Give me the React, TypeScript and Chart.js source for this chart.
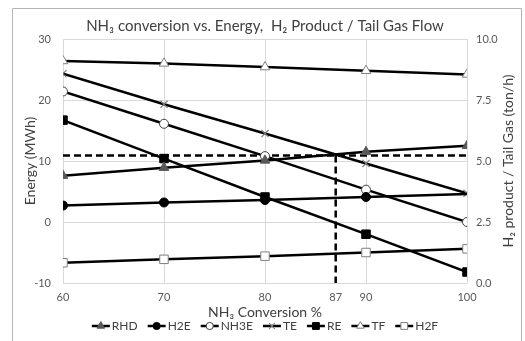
import React, { useEffect, useRef } from 'react';
import { Chart, registerables } from 'chart.js';
import { drawPoint } from 'chart.js/helpers';

Chart.register(...registerables);

// ---- data ----
const conversion = [60, 70, 80, 90, 100];
const xTicks = [60, 70, 80, 87, 90, 100];
const energyTicks = [-10, 0, 10, 20, 30];
const flowTicks = [0, 2.5, 5, 7.5, 10];
const rhd = [7.6, 8.9, 10.1, 11.5, 12.5];
const h2e = [2.7, 3.2, 3.6, 4.1, 4.6];
const nh3e = [21.4, 16.1, 10.8, 5.3, 0.0];
const te = [24.3, 19.3, 14.5, 9.6, 4.7];
const re = [16.7, 10.4, 4.1, -2.0, -8.2];
const tf = [9.1, 9.0, 8.85, 8.7, 8.55];
const h2f = [0.83, 0.97, 1.1, 1.25, 1.4];
const cutoffConversion = 87;
const cutoffEnergy = 10.9;

const FONT = 'Lato, "Open Sans", sans-serif';

const pts = (ys: number[]) => conversion.map((x, i) => ({ x, y: ys[i] }));

type Marker = {
  label: string;
  data: number[];
  axis: string;
  style: string;
  radius: number;
  fill: string;
  stroke: string;
  bw: number;
  hideLast?: boolean;
};

const markers: Marker[] = [
  { label: 'RHD', data: rhd, axis: 'y', style: 'triangle', radius: 5.5, fill: '#595959', stroke: '#595959', bw: 1 },
  { label: 'H2E', data: h2e, axis: 'y', style: 'circle', radius: 4.5, fill: '#000', stroke: '#000', bw: 1, hideLast: true },
  { label: 'NH3E', data: nh3e, axis: 'y', style: 'circle', radius: 4.5, fill: '#fff', stroke: '#404040', bw: 1 },
  { label: 'TE', data: te, axis: 'y', style: 'crossRot', radius: 5, fill: '#7f7f7f', stroke: '#7f7f7f', bw: 1.2 },
  { label: 'RE', data: re, axis: 'y', style: 'rect', radius: 6, fill: '#000', stroke: '#000', bw: 1 },
  { label: 'TF', data: tf, axis: 'y1', style: 'triangle', radius: 5.5, fill: '#fff', stroke: '#7f7f7f', bw: 1 },
  { label: 'H2F', data: h2f, axis: 'y1', style: 'rect', radius: 6, fill: '#fff', stroke: '#7f7f7f', bw: 1 },
];

const decor = {
  id: 'decor',
  beforeDraw(chart: any) {
    const ctx = chart.ctx;
    ctx.save();
    ctx.fillStyle = '#fff';
    ctx.fillRect(0, 0, chart.width, chart.height);
    ctx.strokeStyle = '#b4b4b4';
    ctx.lineWidth = 1;
    ctx.beginPath();
    ctx.moveTo(12.5, chart.height);
    ctx.lineTo(12.5, 8.5);
    ctx.lineTo(521.5, 8.5);
    ctx.lineTo(521.5, chart.height);
    ctx.stroke();
    ctx.restore();
  },
  afterDraw(chart: any) {
    const ctx = chart.ctx;
    const area = chart.chartArea;
    const cx = (area.left + area.right) / 2;
    ctx.save();
    ctx.textBaseline = 'middle';
    ctx.textAlign = 'center';
    // title
    ctx.fillStyle = '#404040';
    ctx.font = `15px ${FONT}`;
    ctx.fillText('NH\u2083 conversion vs. Energy,  H\u2082 Product / Tail Gas Flow', cx, 26);
    // x title
    ctx.font = `14px ${FONT}`;
    ctx.fillText('NH\u2083 Conversion %', cx, 312);
    // left title
    ctx.save();
    ctx.translate(30, (area.top + area.bottom) / 2);
    ctx.rotate(-Math.PI / 2);
    ctx.fillText('Energy (MWh)', 0, 0);
    ctx.restore();
    // right title
    ctx.save();
    ctx.translate(508, (area.top + area.bottom) / 2);
    ctx.rotate(-Math.PI / 2);
    ctx.fillText('H\u2082 product / Tail Gas (ton/h)', 0, 0);
    ctx.restore();

    // legend
    ctx.font = `12px ${FONT}`;
    const lineW = 18;
    const gapText = 2;
    const gapItem = 10;
    const widths = markers.map((m) => lineW + gapText + ctx.measureText(m.label).width);
    const total = widths.reduce((a, b) => a + b, 0) + gapItem * (markers.length - 1);
    let x = cx - total / 2;
    const y = 326;
    ctx.textAlign = 'left';
    markers.forEach((m, i) => {
      ctx.strokeStyle = '#000';
      ctx.lineWidth = 2.5;
      ctx.beginPath();
      ctx.moveTo(x, y);
      ctx.lineTo(x + lineW, y);
      ctx.stroke();
      ctx.fillStyle = m.fill;
      ctx.strokeStyle = m.stroke;
      ctx.lineWidth = m.bw;
      drawPoint(ctx, { pointStyle: m.style, radius: m.radius * 0.8, rotation: 0, borderWidth: m.bw }, x + lineW / 2, y);
      ctx.fillStyle = '#404040';
      ctx.fillText(m.label, x + lineW + gapText, y + 0.5);
      x += widths[i] + gapItem;
    });
    ctx.restore();
  },
};

export default function App() {
  const ref = useRef<HTMLCanvasElement | null>(null);
  useEffect(() => {
    if (!ref.current) return;
    const datasets: any[] = markers.map((m) => ({
      label: m.label,
      data: pts(m.data),
      yAxisID: m.axis,
      borderColor: '#000',
      borderWidth: 2.5,
      pointStyle: m.style,
      pointRadius: m.hideLast ? m.data.map((_, i) => (i === m.data.length - 1 ? 0 : m.radius)) : m.radius,
      pointBackgroundColor: m.fill,
      pointBorderColor: m.stroke,
      pointBorderWidth: m.bw,
      fill: false,
      tension: 0,
    }));
    datasets.push({
      label: 'cutoffH',
      data: [
        { x: conversion[0], y: cutoffEnergy },
        { x: conversion[conversion.length - 1], y: cutoffEnergy },
      ],
      yAxisID: 'y',
      borderColor: '#000',
      borderWidth: 2.5,
      borderDash: [7, 4],
      pointRadius: 0,
      fill: false,
    });
    datasets.push({
      label: 'cutoffV',
      data: [
        { x: cutoffConversion, y: cutoffEnergy },
        { x: cutoffConversion, y: energyTicks[0] },
      ],
      yAxisID: 'y',
      borderColor: '#000',
      borderWidth: 2.5,
      borderDash: [7, 4],
      pointRadius: 0,
      fill: false,
    });

    const tickFont = { family: FONT, size: 11 };
    const chart = new Chart(ref.current, {
      type: 'line',
      data: { datasets },
      options: {
        animation: false,
        responsive: true,
        maintainAspectRatio: false,
        layout: { padding: { top: 39, left: 0, right: 0, bottom: 0 } },
        plugins: { legend: { display: false }, title: { display: false }, tooltip: { enabled: false } },
        scales: {
          x: {
            type: 'linear',
            min: conversion[0],
            max: conversion[conversion.length - 1],
            afterBuildTicks: (s: any) => {
              s.ticks = xTicks.map((v) => ({ value: v }));
            },
            afterFit: (s: any) => {
              s.height = 341 - 283;
            },
            ticks: { color: '#595959', font: tickFont, padding: 8, autoSkip: false, maxRotation: 0 },
            grid: {
              drawTicks: false,
              color: (c: any) => (c.tick && c.tick.value === cutoffConversion ? 'rgba(0,0,0,0)' : '#d9d9d9'),
            },
            border: { display: false },
          },
          y: {
            position: 'left',
            min: energyTicks[0],
            max: energyTicks[energyTicks.length - 1],
            afterBuildTicks: (s: any) => {
              s.ticks = energyTicks.map((v) => ({ value: v }));
            },
            afterFit: (s: any) => {
              s.width = 63;
            },
            ticks: { color: '#595959', font: tickFont, padding: 12 },
            grid: { drawTicks: false, color: '#d9d9d9' },
            border: { display: false },
          },
          y1: {
            position: 'right',
            min: flowTicks[0],
            max: flowTicks[flowTicks.length - 1],
            afterBuildTicks: (s: any) => {
              s.ticks = flowTicks.map((v) => ({ value: v }));
            },
            afterFit: (s: any) => {
              s.width = 525 - 467;
            },
            ticks: { color: '#595959', font: tickFont, padding: 9, callback: (v: any) => Number(v).toFixed(1) },
            grid: { display: false, drawTicks: false },
            border: { display: false },
          },
        },
      },
      plugins: [decor],
    } as any);
    return () => chart.destroy();
  }, []);
  return (
    <div style={{ position: 'fixed', left: 0, top: 0, width: 525, height: 341 }}>
      <canvas ref={ref} />
    </div>
  );
}
